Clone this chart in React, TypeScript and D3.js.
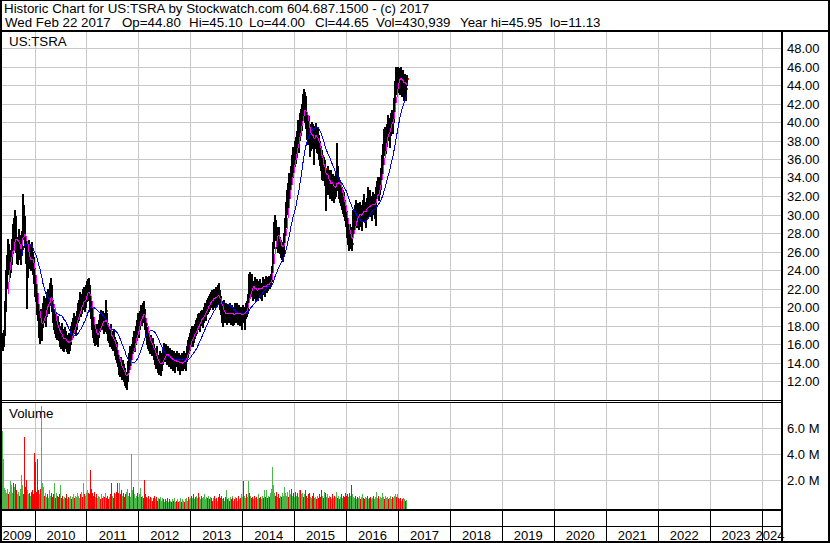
import React from "react";
import * as d3 from "d3";

// Weekly bars [high, low, close], one row per week starting Mon 2009-05-11
const bars2009: number[][] = [
  [17.2,15.3,16.6],[17.5,15.8,17.1],[20.6,17.0,20.2],[24.0,19.6,23.4],[25.6,22.0,24.8],[27.4,24.0,26.5],[26.8,23.6,24.2],[25.5,23.2,24.9],[26.2,23.8,25.6],[27.3,24.6,26.8],
  [29.0,25.8,28.4],[29.6,26.4,27.0],[30.5,26.8,29.8],[29.8,26.0,26.6],[27.6,24.8,25.4],[27.0,24.6,26.2],[28.4,25.6,27.6],[27.8,25.2,25.8],[26.8,24.7,26.2],[27.4,25.4,26.9],
  [28.2,25.8,27.8],[32.2,27.4,30.6],[31.0,27.8,28.6],[29.8,26.5,27.2],[27.6,24.8,25.3],[26.5,19.9,23.8],[26.8,23.2,25.6],[27.2,24.6,25.8],[26.8,24.2,25.0],[26.4,24.0,25.6],
  [27.0,24.8,25.2],[26.0,23.6,24.0],[25.4,22.6,23.2],[24.2,21.2,21.8]
];
const bars2010: number[][] = [
  [23.4,20.6,21.4],[22.4,19.2,19.8],[21.0,18.6,19.0],[20.2,16.8,17.4],[19.4,16.1,18.6],[19.8,16.6,17.0],[18.8,16.4,18.2],[20.4,17.8,19.6],[21.2,18.6,20.6],[21.0,18.4,19.2],
  [20.2,17.9,19.8],[21.6,19.0,21.0],[22.0,19.8,20.4],[21.8,19.4,21.2],[22.6,20.2,21.6],[23.1,20.6,22.2],[22.4,19.6,20.0],[20.8,18.4,19.0],[19.8,17.6,18.2],[19.6,17.2,18.8],
  [19.4,16.8,17.4],[18.6,16.5,17.8],[19.0,17.0,17.6],[18.4,16.4,16.9],[18.0,15.8,16.6],[17.8,15.6,17.2],[18.3,16.2,16.8],[17.6,15.4,16.0],[17.2,15.2,16.4],[17.8,15.8,17.0],
  [17.4,15.6,16.2],[17.0,15.2,15.8],[16.8,15.0,16.4],[17.2,15.0,15.6],[16.9,15.3,16.6],[17.9,16.0,17.4],[18.4,16.6,17.0],[18.8,16.8,18.2],[19.4,17.4,18.6],[19.0,17.2,17.8],
  [18.8,17.0,18.4],[19.6,17.6,19.2],[20.4,18.4,19.6],[20.8,18.6,20.2],[21.6,19.2,20.6],[21.2,19.0,19.6],[21.4,19.4,21.0],[21.9,19.8,20.6],[22.2,20.2,21.8],[21.6,19.6,20.4],
  [22.4,20.0,21.6],[22.8,20.6,22.2]
];
const bars2011: number[][] = [
  [23.0,20.8,22.6],[23.1,21.2,21.6],[22.4,19.6,20.2],[21.0,18.8,19.4],[20.2,17.6,18.0],[19.4,16.8,17.6],[18.8,16.2,17.0],[18.0,15.9,16.8],[17.9,16.0,17.4],[18.2,16.4,16.6],
  [17.6,15.8,17.2],[18.6,16.8,18.2],[19.2,17.4,18.8],[19.7,17.8,18.4],[19.4,17.6,19.0],[19.6,17.8,18.2],[19.0,17.2,18.6],[19.4,17.4,17.8],[20.8,17.8,19.6],[19.4,17.2,17.6],
  [18.3,16.4,17.2],[18.0,16.2,16.8],[17.8,15.8,17.4],[18.2,16.4,16.6],[17.4,15.6,16.2],[17.2,15.4,16.8],[17.6,15.8,16.0],[16.8,14.8,15.4],[16.4,14.4,15.6],[16.2,14.1,14.6],
  [15.4,13.6,14.2],[14.7,12.8,13.4],[14.4,12.5,13.8],[14.6,12.6,13.0],[14.0,12.2,12.8],[14.3,12.4,13.6],[13.8,12.0,12.6],[13.4,11.6,12.2],[13.0,11.4,12.0],[12.8,11.13,12.4],
  [14.2,12.0,13.8],[15.0,13.2,14.6],[15.75,13.6,14.4],[15.4,13.8,15.0],[16.0,14.4,15.6],[16.8,15.0,16.4],[17.4,15.4,15.8],[17.0,15.2,16.6],[17.9,16.0,17.2],[18.6,16.4,18.2],
  [19.4,17.2,18.0],[19.0,16.8,18.6]
];
const bars2012: number[][] = [
  [19.6,17.6,19.2],[20.2,18.2,19.8],[20.0,18.0,18.6],[20.4,18.4,20.0],[20.6,18.6,19.4],[19.8,17.6,18.0],[18.6,16.8,17.2],[17.8,16.0,16.6],[17.4,15.6,16.8],[17.2,15.4,15.8],
  [16.8,15.0,16.4],[17.0,15.2,15.6],[16.4,14.8,15.8],[16.6,15.0,15.4],[16.0,14.4,14.8],[15.6,13.8,14.2],[15.4,13.4,14.6],[15.75,13.8,14.0],[14.8,13.0,13.6],[14.6,12.8,14.2],
  [15.2,13.2,13.4],[14.4,12.7,13.8],[15.0,13.2,14.6],[15.6,13.8,15.2],[16.1,14.4,14.8],[15.8,14.2,15.4],[16.0,14.3,14.6],[15.4,13.8,15.0],[15.8,14.0,14.4],[15.2,13.6,14.8],
  [15.6,14.0,14.2],[15.0,13.4,14.6],[15.4,13.8,14.0],[14.8,13.2,14.4],[15.2,13.4,13.8],[14.6,13.0,14.2],[15.0,13.6,14.6],[15.2,13.8,14.0],[14.6,13.2,14.4],[15.0,13.4,13.6],
  [14.4,12.8,13.8],[14.8,13.2,14.2],[15.0,13.4,13.8],[14.6,13.2,14.4],[15.2,13.6,14.8],[15.0,13.4,14.0],[14.8,13.2,14.6],[15.8,14.2,15.4],[16.4,14.6,16.0],[16.8,15.0,15.6],
  [17.2,15.4,16.8],[17.6,15.8,17.2],[17.9,16.2,17.0]
];
const bars2013: number[][] = [
  [17.6,15.8,17.2],[18.0,16.2,16.8],[18.2,16.6,17.8],[18.6,17.0,17.4],[18.8,17.2,18.4],[19.2,17.6,18.8],[19.4,17.8,18.4],[19.0,17.4,18.6],[19.6,18.0,19.2],[19.7,18.2,18.8],
  [19.4,17.8,19.0],[20.0,18.4,19.6],[20.4,18.8,19.8],[20.2,18.6,20.0],[20.8,19.2,20.4],[21.0,19.4,20.2],[21.2,19.6,20.8],[21.4,19.8,20.6],[21.6,20.0,21.2],[21.8,20.2,21.0],
  [21.6,19.8,20.8],[22.0,20.2,21.4],[21.8,20.0,20.6],[22.2,20.4,21.8],[22.0,20.2,21.2],[22.4,20.6,21.6],[22.6,20.4,21.0],[21.8,19.8,20.2],[21.2,19.2,19.6],[20.6,18.4,18.8],
  [20.2,17.9,19.8],[20.8,18.6,19.2],[20.0,18.4,19.6],[20.4,18.8,19.0],[19.8,18.2,19.4],[20.2,18.6,19.2],[20.0,18.4,19.6],[20.4,18.8,19.2],[19.8,18.2,19.6],[20.2,18.6,19.0],
  [19.6,18.0,19.4],[20.0,18.4,18.8],[19.8,18.2,19.6],[20.4,18.8,19.4],[20.0,18.4,19.8],[20.4,18.6,19.2],[19.8,18.2,19.6],[20.2,18.4,18.8],[19.6,18.0,19.4],[20.0,18.2,19.0],
  [19.6,17.6,19.2],[20.2,18.4,19.8]
];
const bars2014: number[][] = [
  [20.0,18.4,19.4],[19.8,17.6,19.6],[20.4,18.8,20.0],[20.6,19.0,19.6],[21.4,19.4,21.0],[23.6,20.8,23.2],[23.8,21.8,22.4],[23.2,21.2,22.8],[23.6,21.4,21.8],[22.6,20.8,21.4],
  [22.8,21.0,22.2],[23.2,21.4,21.8],[22.6,20.8,22.4],[23.0,21.4,21.6],[22.4,20.8,22.0],[22.8,21.2,22.6],[23.0,21.6,22.2],[22.6,21.0,21.6],[22.4,20.8,22.2],[23.2,21.6,22.8],
  [23.0,21.4,22.0],[22.8,21.2,22.6],[23.4,21.8,22.4],[22.8,21.6,22.6],[23.2,21.8,22.4],[23.4,22.0,23.0],[23.4,22.0,22.8],[23.6,22.4,23.2],[24.4,22.8,24.0],[27.0,23.8,26.6],
  [29.2,26.4,28.6],[30.0,27.8,29.2],[29.4,27.2,27.8],[28.6,26.4,27.0],[28.2,26.0,27.4],[28.7,26.6,27.0],[27.6,25.8,26.4],[27.2,25.4,26.8],[27.0,25.2,25.6],[26.6,25.0,26.2],
  [28.0,25.8,27.6],[29.6,27.2,29.0],[31.4,28.6,30.8],[32.6,30.0,31.6],[33.4,30.8,32.8],[34.5,31.6,32.4],[34.0,31.8,33.6],[35.2,33.0,34.8],[36.4,33.6,34.2],[37.3,34.0,36.8],
  [37.0,34.6,35.6],[38.0,35.2,37.4]
];
const bars2015: number[][] = [
  [38.4,35.6,37.0],[39.0,36.2,38.6],[40.2,37.4,38.2],[39.6,36.8,39.2],[41.0,38.0,40.4],[41.4,38.6,39.6],[42.0,39.1,41.4],[43.0,40.2,42.2],[43.6,40.6,41.6],[43.2,40.0,42.6],
  [42.8,39.4,40.2],[41.0,38.2,38.8],[40.4,37.6,39.6],[40.6,37.8,38.4],[39.8,36.3,37.2],[39.6,37.0,38.8],[40.0,37.6,39.4],[39.8,37.2,38.2],[39.4,35.5,37.8],[39.6,37.2,38.6],
  [39.9,37.4,39.2],[39.4,36.8,37.6],[39.2,36.6,38.4],[38.6,36.0,36.6],[38.0,35.4,36.2],[37.4,34.8,35.2],[37.0,33.8,34.6],[36.4,33.7,35.8],[36.2,34.0,34.4],[35.9,33.2,35.0],
  [34.8,30.5,32.4],[34.6,32.2,33.8],[35.2,32.6,34.6],[34.8,32.2,33.0],[34.2,31.8,33.6],[34.8,32.4,32.8],[34.0,31.6,33.4],[34.4,32.0,32.6],[33.8,31.4,33.2],[34.2,31.8,32.4],
  [34.6,32.0,34.0],[37.7,33.4,34.8],[35.2,32.6,33.2],[34.0,31.8,33.4],[33.7,31.4,32.2],[33.4,31.0,32.6],[33.0,30.6,31.4],[32.6,30.2,31.8],[32.4,29.8,30.6],[31.6,29.4,30.2],
  [31.0,28.8,29.6],[30.4,27.6,28.4]
];
const bars2016: number[][] = [
  [29.6,26.8,27.4],[28.4,26.2,27.8],[29.0,26.4,26.8],[28.4,26.6,27.6],[28.6,26.2,26.9],[30.5,28.2,28.8],[30.2,28.0,29.6],[31.0,28.8,30.4],[31.6,29.4,29.8],[30.8,28.6,30.2],
  [31.2,29.0,29.4],[30.6,28.4,30.0],[31.4,29.2,30.8],[31.0,28.8,29.6],[30.8,28.3,30.2],[31.6,29.4,31.2],[32.2,30.0,30.6],[31.4,29.2,30.0],[30.8,28.7,30.4],[31.8,29.6,31.4],
  [33.0,30.6,31.0],[32.0,29.8,31.6],[32.6,30.4,31.2],[32.0,29.8,30.4],[31.6,29.4,31.0],[32.4,30.2,31.6],[32.2,30.0,30.8],[31.8,29.6,31.4],[33.0,28.9,32.6],[33.6,31.8,32.8],
  [34.1,32.0,33.4],[33.8,31.6,32.6],[34.0,32.2,33.6],[35.0,32.8,34.4],[36.4,33.8,35.8],[37.6,35.2,37.0],[39.2,36.4,38.6],[39.5,37.0,37.6],[38.6,36.6,38.2],[39.8,37.4,39.2],
  [40.8,38.4,40.2],[40.4,38.0,38.8],[40.0,37.3,39.6],[41.0,38.6,40.4],[41.3,39.0,40.8],[41.0,38.8,40.2],[42.6,40.0,42.2],[44.4,41.8,43.8],[46.0,43.0,45.2],[45.8,43.4,44.4],
  [46.0,43.8,45.6],[45.8,43.2,44.2]
];
const bars2017: number[][] = [
  [45.4,43.0,44.8],[45.95,43.6,44.2],[45.2,42.8,44.6],[45.6,43.4,43.8],[44.8,42.4,44.0],[45.2,43.2,44.6],[44.6,42.4,43.6],[45.1,44.0,44.65]
];

// Weekly volume, millions of shares
const vol2009 = [5.8,3.6,1.4,1.2,1.0,1.3,0.9,1.1,1.9,1.6,1.0,1.8,1.5,1.7,1.2,0.9,1.1,0.8,1.0,1.3,2.4,1.6,0.9,5.3,1.5,2.0,1.2,0.9,1.0,0.8,1.1,1.2,0.9,4.1];
const vol2010 = [3.4,1.1,3.6,1.2,0.9,1.3,7.7,1.8,1.5,0.8,1.0,0.7,0.9,0.6,1.2,0.8,1.0,0.7,0.9,1.8,0.6,1.0,0.8,0.7,0.9,1.6,0.6,0.8,0.5,0.7,0.6,0.9,0.5,0.7,0.6,0.8,0.5,0.7,0.9,0.6,0.8,0.7,1.0,0.8,0.6,0.9,1.1,0.7,1.8,0.9,0.8,1.0];
const vol2011 = [1.2,1.0,0.9,2.8,1.3,1.0,0.8,1.1,0.7,0.9,0.6,0.8,0.7,0.5,0.9,0.6,0.8,0.7,1.0,0.6,0.8,0.5,0.7,0.9,1.8,0.8,0.6,1.0,0.9,1.1,1.8,1.0,1.8,0.9,1.2,0.8,1.0,0.7,0.9,1.1,1.3,0.8,1.0,0.7,4.0,1.2,1.5,0.9,0.6,0.8,1.0,0.7];
const vol2012 = [0.9,1.4,0.7,0.8,0.6,2.0,0.9,0.7,0.6,0.8,0.5,0.7,0.6,0.4,0.6,0.8,0.5,0.7,0.4,0.6,0.5,0.7,0.4,0.6,0.5,0.3,0.5,0.4,0.6,0.3,0.5,0.4,0.3,0.5,0.4,0.6,0.3,0.4,0.5,0.3,0.4,0.6,0.3,0.5,0.4,0.3,0.5,0.6,0.4,0.7,0.5,0.6,0.8];
const vol2013 = [0.6,0.9,0.5,0.7,0.8,0.6,1.0,0.7,0.5,0.8,0.6,0.7,0.9,0.5,0.7,0.6,0.8,0.5,0.7,0.6,0.4,0.6,0.8,0.5,0.6,0.4,0.7,0.9,0.6,0.8,0.5,0.6,0.4,0.7,1.2,0.5,0.6,0.4,0.7,0.5,0.8,0.6,0.4,0.5,0.7,0.6,0.4,0.8,0.5,0.6,0.9,0.7];
const vol2014 = [1.9,0.8,0.6,0.9,0.7,1.9,1.0,0.8,0.6,0.7,0.5,0.8,0.6,0.7,0.5,0.9,0.6,0.7,0.5,0.8,0.6,1.2,0.7,1.2,0.6,0.8,0.7,1.0,1.3,3.0,1.6,1.0,0.8,1.1,0.7,0.9,0.6,0.8,0.7,1.0,0.8,1.5,1.0,0.8,1.1,0.7,1.2,0.9,1.3,0.8,1.0,0.7];
const vol2015 = [1.1,0.8,1.0,0.7,1.2,1.2,0.9,1.0,0.7,0.9,1.2,0.8,0.6,0.9,1.0,0.7,0.6,0.8,1.0,0.6,0.7,0.5,0.8,0.6,0.9,0.7,1.2,0.8,0.6,1.1,1.0,0.7,0.9,0.6,0.8,0.7,0.5,0.9,0.6,0.8,0.7,1.1,0.6,0.8,0.5,0.7,0.9,0.6,0.8,0.7,1.0,0.8];
const vol2016 = [0.9,0.7,1.0,0.8,1.6,0.9,0.7,0.6,0.8,0.5,0.7,0.6,0.8,0.5,0.7,0.9,0.6,0.5,0.7,0.6,0.8,0.5,0.6,0.7,0.5,0.6,0.8,0.5,0.7,1.1,0.6,0.8,0.5,0.7,0.6,1.0,0.7,0.5,0.8,0.6,0.7,0.5,0.6,0.8,0.5,0.7,0.6,0.8,0.9,0.7,0.9,0.6];
const vol2017 = [0.5,0.6,0.4,0.5,0.6,0.5,0.4,0.43];

const priceTicks = [12,14,16,18,20,22,24,26,28,30,32,34,36,38,40,42,44,46,48];
const volumeTicks = [2,4,6];
const yearLabels = [2009,2010,2011,2012,2013,2014,2015,2016,2017,2018,2019,2020,2021,2022,2023,2024];

const titleLine = "Historic Chart for US:TSRA by Stockwatch.com 604.687.1500 - (c) 2017";
const quoteParts = ["Wed Feb 22 2017","Op=44.80","Hi=45.10","Lo=44.00","Cl=44.65","Vol=430,939","Year hi=45.95","lo=11.13"];
const quoteX = [5,122,189,249,315,376,460,550];

const FONT = "'Liberation Sans', Arial, sans-serif";

function sma(vals: number[], n: number): (number | null)[] {
  return vals.map((_, i) => (i < n - 1 ? null : (d3.mean(vals.slice(i - n + 1, i + 1)) as number)));
}

export default function App() {
  const W = 830, H = 543;
  const bars = [...bars2009, ...bars2010, ...bars2011, ...bars2012, ...bars2013, ...bars2014, ...bars2015, ...bars2016, ...bars2017];
  const vols = [...vol2009, ...vol2010, ...vol2011, ...vol2012, ...vol2013, ...vol2014, ...vol2015, ...vol2016, ...vol2017];
  const start = new Date(2009, 4, 11);
  const rows = bars.map((b, i) => ({
    date: d3.timeWeek.offset(start, i),
    hi: b[0], lo: b[1], cl: b[2],
    vol: vols[i] ?? 0,
    up: i === 0 || b[2] >= bars[i - 1][2],
  }));
  const closes = rows.map((r) => r.cl);
  const maFast = sma(closes, 6);
  const maSlow = sma(closes, 20);

  const plotL = 2, plotR = 781;
  const x = d3.scaleTime().domain([new Date(2010, 0, 1), new Date(2024, 0, 1)]).range([35, 762]);
  const y = d3.scaleLinear().domain([12, 48]).range([381.5, 48.5]);
  const yv = d3.scaleLinear().domain([0, 6]).range([506.5, 428.5]);
  const px = (d: Date) => Math.round(x(d));

  const yearBounds = yearLabels.slice(1).map((yr) => Math.floor(x(new Date(yr, 0, 1))));

  const lineGen = (vals: (number | null)[]) =>
    d3.line<number | null>()
      .defined((v) => v != null)
      .x((_, i) => px(rows[i].date) + 1)
      .y((v) => y(v as number))(vals) || "";

  const grid = "#c8c8c8";
  const green = "#4cb84c";

  return (
    <svg width={W} height={H} style={{ position: "absolute", left: 0, top: 0, background: "#fff" }} fontFamily={FONT}>
      <defs>
        <clipPath id="pclip"><rect x={plotL} y={32} width={plotR - plotL} height={368} /></clipPath>
        <clipPath id="vclip"><rect x={plotL} y={403} width={plotR - plotL} height={106} /></clipPath>
      </defs>
      <rect x={0} y={0} width={W} height={H} fill="#fff" />

      {/* title */}
      <text x={4} y={13} fontSize={13.33} fill="#000">{titleLine}</text>
      {quoteParts.map((t, i) => (
        <text key={t} x={quoteX[i]} y={27} fontSize={13.33} fill="#000">{t}</text>
      ))}

      {/* grid */}
      <g shapeRendering="crispEdges">
        {priceTicks.map((v) => (
          <line key={"hp" + v} x1={plotL} x2={plotR} y1={Math.floor(y(v)) + 0.5} y2={Math.floor(y(v)) + 0.5} stroke={grid} />
        ))}
        {yearBounds.map((b) => (
          <line key={"vp" + b} x1={b + 0.5} x2={b + 0.5} y1={32} y2={400} stroke={grid} />
        ))}
        {volumeTicks.map((v) => (
          <line key={"hv" + v} x1={plotL} x2={plotR} y1={Math.floor(yv(v)) + 0.5} y2={Math.floor(yv(v)) + 0.5} stroke={grid} />
        ))}
        {yearBounds.map((b) => (
          <line key={"vv" + b} x1={b + 0.5} x2={b + 0.5} y1={403} y2={509} stroke={grid} />
        ))}
      </g>

      {/* price bars: black high-low bar, red close tick */}
      <g clipPath="url(#pclip)" shapeRendering="crispEdges">
        {rows.map((r, i) => {
          const xx = px(r.date);
          const top = Math.floor(y(r.hi));
          const bot = Math.ceil(y(r.lo));
          return (
            <g key={"b" + i}>
              <rect x={xx} y={top} width={2} height={Math.max(1, bot - top)} fill="#000" />
              <rect x={xx + 2} y={Math.round(y(r.cl)) - 1} width={1} height={2} fill="#ff0000" />
            </g>
          );
        })}
        <path d={lineGen(maSlow)} fill="none" stroke="#0000ff" strokeWidth={1} />
        <path d={lineGen(maFast)} fill="none" stroke="#ff00ff" strokeWidth={1} />
      </g>

      {/* volume bars */}
      <g clipPath="url(#vclip)" shapeRendering="crispEdges">
        {rows.map((r, i) => {
          const top = Math.floor(yv(r.vol));
          return <rect key={"v" + i} x={px(r.date)} y={top} width={1} height={509 - top} fill={r.up ? green : "#ff0000"} />;
        })}
      </g>

      <text x={9} y={46} fontSize={13.33} fill="#000">US:TSRA</text>
      <text x={9} y={418} fontSize={13.33} fill="#000">Volume</text>

      {/* frame lines */}
      <g shapeRendering="crispEdges" fill="#000">
        <rect x={0} y={30} width={W} height={2} />
        <rect x={0} y={400} width={plotR} height={1} />
        <rect x={0} y={402} width={plotR} height={1} />
        <rect x={0} y={509} width={plotR} height={2} />
        <rect x={0} y={526} width={plotR} height={1} />
        <rect x={781} y={30} width={2} height={H - 30} />
        {yearBounds.map((b) => (
          <rect key={"yb" + b} x={b} y={511} width={1} height={30} />
        ))}
        <rect x={0} y={0} width={W} height={1} />
        <rect x={0} y={0} width={2} height={H} />
        <rect x={W - 2} y={0} width={2} height={H} />
        <rect x={0} y={H - 2} width={W} height={2} />
      </g>

      {/* axis labels */}
      {priceTicks.map((v) => (
        <text key={"pl" + v} x={787} y={Math.floor(y(v)) + 5} fontSize={13} fill="#000">{v.toFixed(2)}</text>
      ))}
      {volumeTicks.map((v) => (
        <text key={"vl" + v} x={787} y={Math.floor(yv(v)) + 5} fontSize={13} fill="#000">{v.toFixed(1) + " M"}</text>
      ))}
      {yearLabels.map((yr) => {
        const a = x(new Date(yr, 0, 1));
        const b = x(new Date(yr + 1, 0, 1));
        let c = (a + b) / 2;
        c = Math.max(c, 3 + 14);
        c = Math.min(c, 784 - 14);
        return (
          <text key={"yl" + yr} x={c} y={540} fontSize={13} textAnchor="middle" fill="#000">{yr}</text>
        );
      })}
    </svg>
  );
}
